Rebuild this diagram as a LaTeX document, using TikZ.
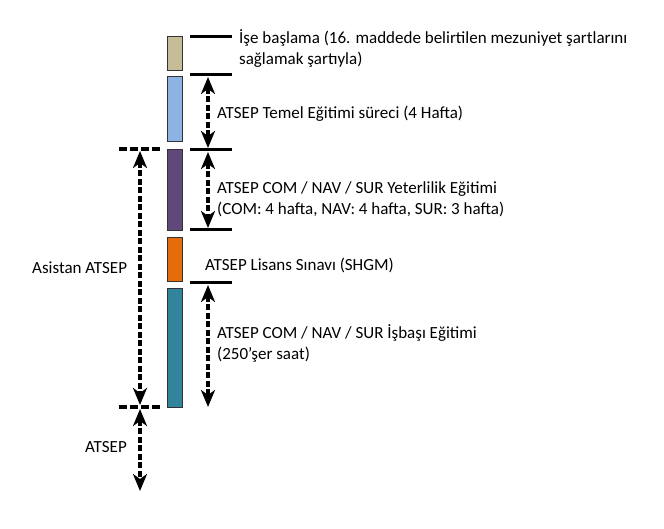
\documentclass[tikz,border=0pt]{standalone}
\usepackage{fontspec}
\setmainfont{Carlito}
\usetikzlibrary{arrows.meta}
\definecolor{ctan}{HTML}{C4BD97}
\definecolor{cblue}{HTML}{8DB3E2}
\definecolor{cpurple}{HTML}{5F497A}
\definecolor{corange}{HTML}{E46C0A}
\definecolor{cteal}{HTML}{31849B}
\tikzset{
  bar/.style={draw=black!80, line width=0.9pt, minimum width=15pt, inner sep=0pt, anchor=north west},
  mark line/.style={line width=3pt},
  tipA/.tip={Stealth[length=17pt,width=14pt,inset=5pt]},
  dimarrow/.style={line width=3.5pt, dash pattern=on 6pt off 2.5pt, tipA-tipA},
  dashline/.style={line width=3.5pt, dash pattern=on 8pt off 3pt},
  lbl/.style={font=\fontsize{17}{21}\selectfont, align=left, inner sep=0pt, anchor=west},
}
\begin{document}
\begin{tikzpicture}[x=1pt,y=-1pt]
\useasboundingbox (0,0) rectangle (664,529);
% bars
\node[bar, fill=ctan, minimum height=34pt] (b1) at (166.5,36) {};
\node[bar, fill=cblue, minimum height=65pt] (b2) at (166.5,76) {};
\node[bar, fill=cpurple, minimum height=81pt] (b3) at (166.5,149) {};
\node[bar, fill=corange, minimum height=44pt] (b4) at (166.5,237) {};
\node[bar, fill=cteal, minimum height=119pt] (b5) at (166.5,288) {};
% marker lines
\coordinate (l1a) at (190,37);  \coordinate (l1b) at (232,37);
\coordinate (l2a) at (190,75);  \coordinate (l2b) at (232,75);
\coordinate (l3a) at (190,150); \coordinate (l3b) at (232,150);
\coordinate (l4a) at (190,230); \coordinate (l4b) at (232,230);
\coordinate (l5a) at (190,283); \coordinate (l5b) at (232,283);
\draw[mark line] (l1a) -- (l1b);
\draw[mark line] (l2a) -- (l2b);
\draw[mark line] (l3a) -- (l3b);
\draw[mark line] (l4a) -- (l4b);
\draw[mark line] (l5a) -- (l5b);
% right arrows
\coordinate (r1) at (208,77);  \coordinate (r2) at (208,148);
\coordinate (r3) at (208,152); \coordinate (r4) at (208,228);
\coordinate (r5) at (208,285); \coordinate (r6) at (208,407);
\draw[dimarrow] (r1) -- (r2);
\draw[dimarrow] (r3) -- (r4);
\draw[dimarrow] (r5) -- (r6);
% left marks
\coordinate (h1a) at (119,149); \coordinate (h1b) at (160,149);
\coordinate (h2a) at (119,407); \coordinate (h2b) at (160,407);
\draw[dashline] (h1a) -- (h1b);
\draw[dashline] (h2a) -- (h2b);
\coordinate (v1) at (140,151); \coordinate (v2) at (140,405);
\coordinate (v3) at (140,409); \coordinate (v4) at (140,491);
\draw[dimarrow] (v1) -- (v2);
\draw[dimarrow] (v3) -- (v4);
% labels
\node[lbl] (t1) at (239,48.5) {İşe başlama (16. maddede belirtilen mezuniyet şartlarını\\sağlamak şartıyla)};
\node[lbl] (t2) at (217,114) {ATSEP Temel Eğitimi süreci (4 Hafta)};
\node[lbl] (t3) at (217,199.5) {ATSEP COM / NAV / SUR Yeterlilik Eğitimi\\(COM: 4 hafta, NAV: 4 hafta, SUR: 3 hafta)};
\node[lbl] (t4) at (205,265) {ATSEP Lisans Sınavı (SHGM)};
\node[lbl] (t5) at (217,343) {ATSEP COM / NAV / SUR İşbaşı Eğitimi\\(250’şer saat)};
\node[lbl] (t6) at (32,268) {Asistan ATSEP};
\node[lbl] (t7) at (85,447) {ATSEP};
\end{tikzpicture}
\end{document}
